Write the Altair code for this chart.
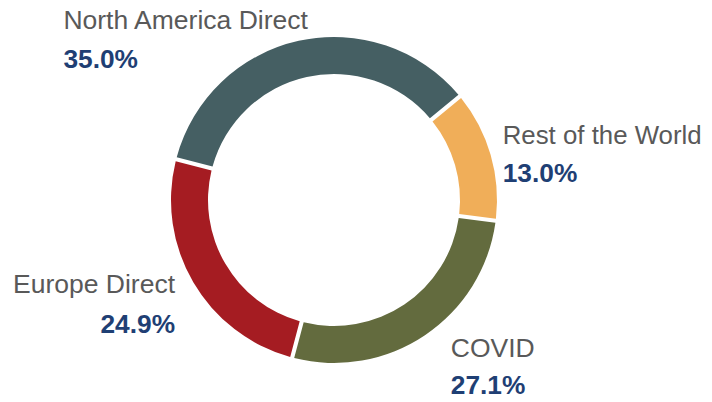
import math
import altair as alt
import pandas as pd

# ---- data ----
categories = ["Rest of the World", "COVID", "Europe Direct", "North America Direct"]
shares = [13.0, 27.1, 24.9, 35.0]
pct_labels = ["13.0%", "27.1%", "24.9%", "35.0%"]
colors = ["#F0AE59", "#636B3E", "#A51C22", "#455F63"]

df = pd.DataFrame({
    "category": categories,
    "share": shares,
    "pct": pct_labels,
    "idx": list(range(len(categories))),
})

start = math.radians(50.5)
theta_scale = alt.Scale(domain=[0, 100], range=[start, start + 2 * math.pi])
CX, CY = 326, 192
FONT = "Liberation Sans"

base = alt.Chart(df)

ring = base.mark_arc(outerRadius=163, innerRadius=126, padAngle=0.02).encode(
    theta=alt.Theta("share:Q", stack=True, scale=theta_scale),
    color=alt.Color("category:N", scale=alt.Scale(domain=categories, range=colors), legend=None),
    order=alt.Order("idx:Q"),
    x=alt.value(CX),
    y=alt.value(CY),
)

labels_base = base.transform_window(
    cum="sum(share)", sort=[alt.SortField("idx")]
).transform_calculate(mid="datum.cum - datum.share / 2")


def label_layer(cat, field, dx, dy, align, bold, size):
    return labels_base.transform_filter(alt.datum.category == cat).mark_text(
        align=align,
        baseline="alphabetic",
        dx=dx,
        dy=dy,
        fontSize=size,
        font=FONT,
        fontWeight="bold" if bold else "normal",
        color="#1F3F74" if bold else "#595959",
    ).encode(
        theta=alt.Theta("mid:Q", scale=theta_scale),
        radius=alt.value(175),
        text=alt.Text(f"{field}:N"),
        x=alt.value(CX),
        y=alt.value(CY),
    )


layers = [ring]
# (category, dx, dy_name, dy_pct, align, name font size)
placements = [
    ("Rest of the World", 0.6, -7.5, 30.2, "left", 25.8),
    ("COVID", 19.1, 12.0, 48.6, "left", 26.5),
    ("Europe Direct", -7.9, 5.0, 44.4, "right", 26.5),
    ("North America Direct", -232.7, 0.3, 39.3, "left", 26.5),
]
for cat, dx, dyn, dyp, align, size in placements:
    layers.append(label_layer(cat, "category", dx, dyn, align, False, size))
    layers.append(label_layer(cat, "pct", dx, dyp, align, True, 26.3))

chart = alt.layer(*layers).properties(
    width=696, height=386, padding=0, autosize="none"
).configure_view(stroke=None)

chart.save("out.html", embed_options={"renderer": "svg", "actions": False})
